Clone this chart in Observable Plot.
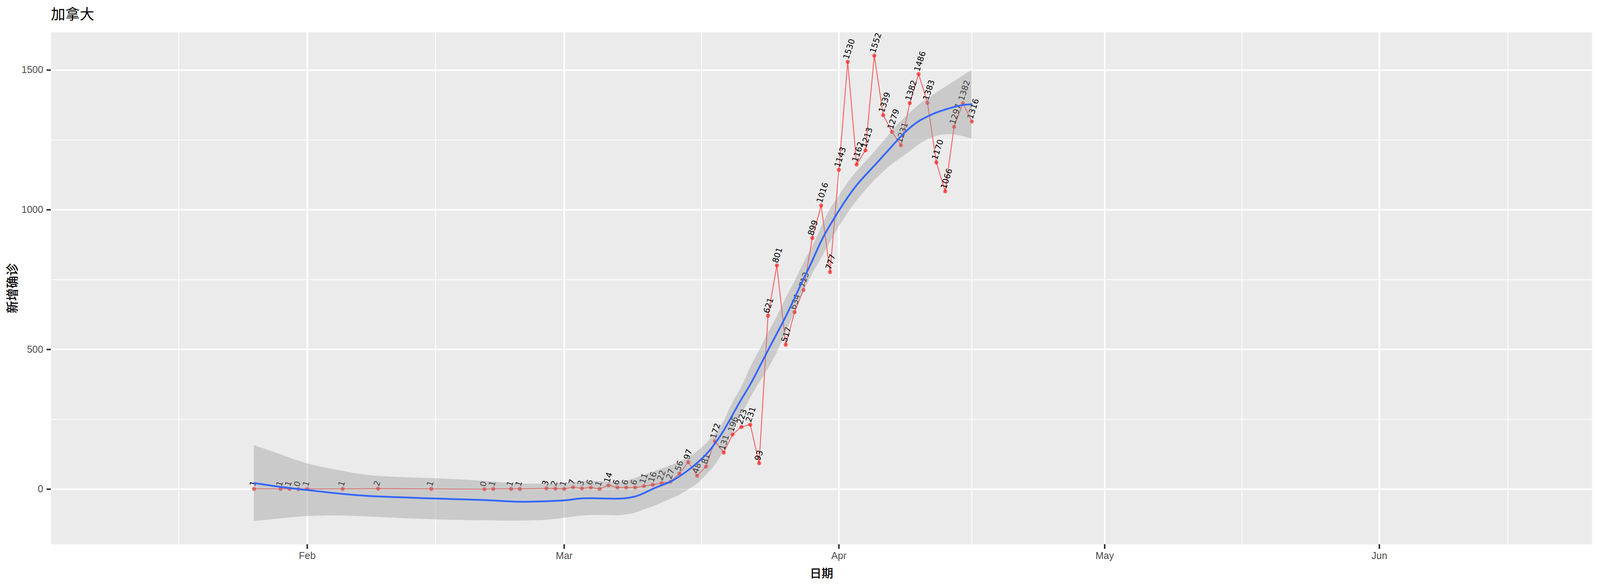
<!DOCTYPE html>
<html>
<head>
<meta charset="utf-8">
<script src="https://cdn.jsdelivr.net/npm/d3@7"></script>
<script src="https://cdn.jsdelivr.net/npm/@observablehq/plot@0.6"></script>
<style>
html,body{margin:0;padding:0;background:#fff;}
#title{height:82px;box-sizing:border-box;padding-top:12px;font:37px/44px "Noto Sans CJK SC",sans-serif;color:#000;white-space:nowrap;}
svg{display:block;}
</style>
</head>
<body>
<div id="title">加拿大</div>
<div id="chart"></div>
<script>
const caseDates = ["01-26","01-29","01-30","01-31","02-01","02-05","02-09","02-15","02-21","02-22","02-24","02-25","02-28","02-29",
  "03-01","03-02","03-03","03-04","03-05","03-06","03-07","03-08","03-09","03-10","03-11","03-12","03-13","03-14","03-15","03-16",
  "03-17","03-18","03-19","03-20","03-21","03-22","03-23","03-24","03-25","03-26","03-27","03-28","03-29","03-30","03-31",
  "04-01","04-02","04-03","04-04","04-05","04-06","04-07","04-08","04-09","04-10","04-11","04-12","04-13","04-14","04-15","04-16"];
const caseValues = [1,1,1,0,1,1,2,1,0,1,1,1,3,2,
  1,7,3,6,1,14,6,6,6,11,16,22,27,56,97,48,
  81,172,131,196,223,231,93,621,801,517,634,713,899,1016,777,
  1143,1530,1162,1213,1552,1339,1279,1231,1382,1486,1383,1170,1066,1297,1382,1316];

const smoothDates = ["01-26","01-29","02-01","02-05","02-09","02-15","02-21","02-25","02-28","03-01","03-03","03-05","03-07","03-08","03-09",
  "03-10","03-11","03-12","03-13","03-14","03-15","03-16","03-17","03-18","03-19","03-20","03-21","03-22","03-23","03-24","03-25","03-26",
  "03-27","03-28","03-29","03-30","03-31","04-01","04-02","04-03","04-04","04-05","04-06","04-07","04-08","04-09","04-10","04-11","04-12",
  "04-13","04-14","04-15","04-16"];
const smoothFit = [22,8,-3,-17,-26,-33,-39,-45,-43,-40,-33,-33,-34,-32,-26,
  -14,1,14,27,46,68,94,124,163,210,266,322,375,435,497,557,
  618,684,752,818,888,945,997,1045,1088,1124,1158,1193,1228,1263,1293,1317,1334,1348,
  1359,1368,1375,1378];
const smoothUpper = [157,124,92,65,47,39,29,20,20,23,27,28,24,29,39,
  51,62,73,84,98,114,135,163,198,244,310,366,436,496,559,618,
  683,743,809,869,937,1002,1050,1097,1137,1172,1207,1244,1282,1317,1347,1375,1398,1419,
  1440,1459,1480,1500];
const smoothLower = [-115,-105,-97,-95,-100,-108,-112,-113,-110,-103,-95,-93,-94,-91,-85,
  -73,-62,-49,-35,-21,-2,19,50,86,138,205,266,326,380,431,489,
  560,633,706,770,826,883,939,988,1032,1070,1105,1136,1163,1186,1209,1233,1251,1264,
  1270,1269,1263,1254];

const yMajor = [0,500,1000,1500];
const yMinor = [250,750,1250];
const xMajor = ["2020-02-01","2020-03-01","2020-04-01","2020-05-01","2020-06-01"];
const xMinor = ["2020-01-17T12:00Z","2020-02-15T12:00Z","2020-03-16T12:00Z","2020-04-16T00:00Z","2020-05-16T12:00Z","2020-06-15T12:00Z"];
const xLabels = ["Feb","Mar","Apr","May","Jun"];

const toDate = s => new Date("2020-" + s + "T00:00Z");
const cases = caseDates.map((d,i)=>({date:toDate(d), value:caseValues[i]}));
const smooth = smoothDates.map((d,i)=>({date:toDate(d), fit:smoothFit[i], upper:smoothUpper[i], lower:smoothLower[i]}));
const majorDates = xMajor.map(d=>new Date(d+"T00:00Z"));
const minorDates = xMinor.map(d=>new Date(d));

// The page is laid out to the window's real width, capped at the reference's 4500.
const W = Math.min(window.innerWidth, 4500);
const k = W / 4500;
const left = 143 * k;
document.getElementById("title").style.paddingLeft = left + "px";

const chart = Plot.plot({
  width: W, height: 1418,
  marginLeft: left, marginRight: 23 * k, marginTop: 0, marginBottom: 107,
  style: {fontFamily: '"Liberation Sans", Arial, sans-serif', background: "#fff"},
  x: {type:"utc", domain:[new Date("2020-01-03T02:00Z"), new Date("2020-06-25T00:00Z")]},
  y: {domain:[-197.6,1635.6]},
  marks: [
    Plot.frame({fill:"#EBEBEB", stroke:null}),
    Plot.ruleY(yMinor,{stroke:"#fff",strokeWidth:2}),
    Plot.ruleX(minorDates,{stroke:"#fff",strokeWidth:2}),
    Plot.ruleY(yMajor,{stroke:"#fff",strokeWidth:4}),
    Plot.ruleX(majorDates,{stroke:"#fff",strokeWidth:4}),
    Plot.line(cases,{x:"date",y:"value",stroke:"red",strokeOpacity:0.6,strokeWidth:2.3,curve:"linear"}),
    Plot.dot(cases,{x:"date",y:"value",r:5.2,fill:"red",fillOpacity:0.6,stroke:null}),
    Plot.text(cases,{x:"date",y:"value",text:d=>String(d.value),rotate:-72,textAnchor:"start",lineAnchor:"middle",
      dx:-4.5,dy:-7,fontSize:21,fontFamily:"DejaVu Sans",fill:"#000",clip:true}),
    Plot.areaY(smooth,{x:"date",y1:"lower",y2:"upper",fill:"#999",fillOpacity:0.4,curve:"natural"}),
    Plot.line(smooth,{x:"date",y:"fit",stroke:"#3366FF",strokeWidth:4.5,curve:"natural"}),
    Plot.axisY({ticks:yMajor,tickSize:11,tickPadding:9,stroke:"#333",strokeWidth:4,fill:"#4D4D4D",fontSize:25,label:null,tickFormat:d=>String(d)}),
    Plot.axisX({ticks:majorDates,tickSize:12,tickPadding:8,stroke:"#333",strokeWidth:4,fill:"#4D4D4D",fontSize:25,label:null,
      tickFormat:d=>xLabels[majorDates.findIndex(m=>+m===+d)]}),
    Plot.text(["日期"],{frameAnchor:"bottom",dy:84,fontSize:30,fontWeight:500,fontFamily:"Noto Sans CJK SC",fill:"#000"}),
    Plot.text(["新增确诊"],{frameAnchor:"left",textAnchor:"middle",dx:-98,rotate:-90,fontSize:32,fontWeight:500,fontFamily:"Noto Sans CJK SC",fill:"#000"})
  ]
});
document.getElementById("chart").appendChild(chart);
</script>
</body>
</html>
